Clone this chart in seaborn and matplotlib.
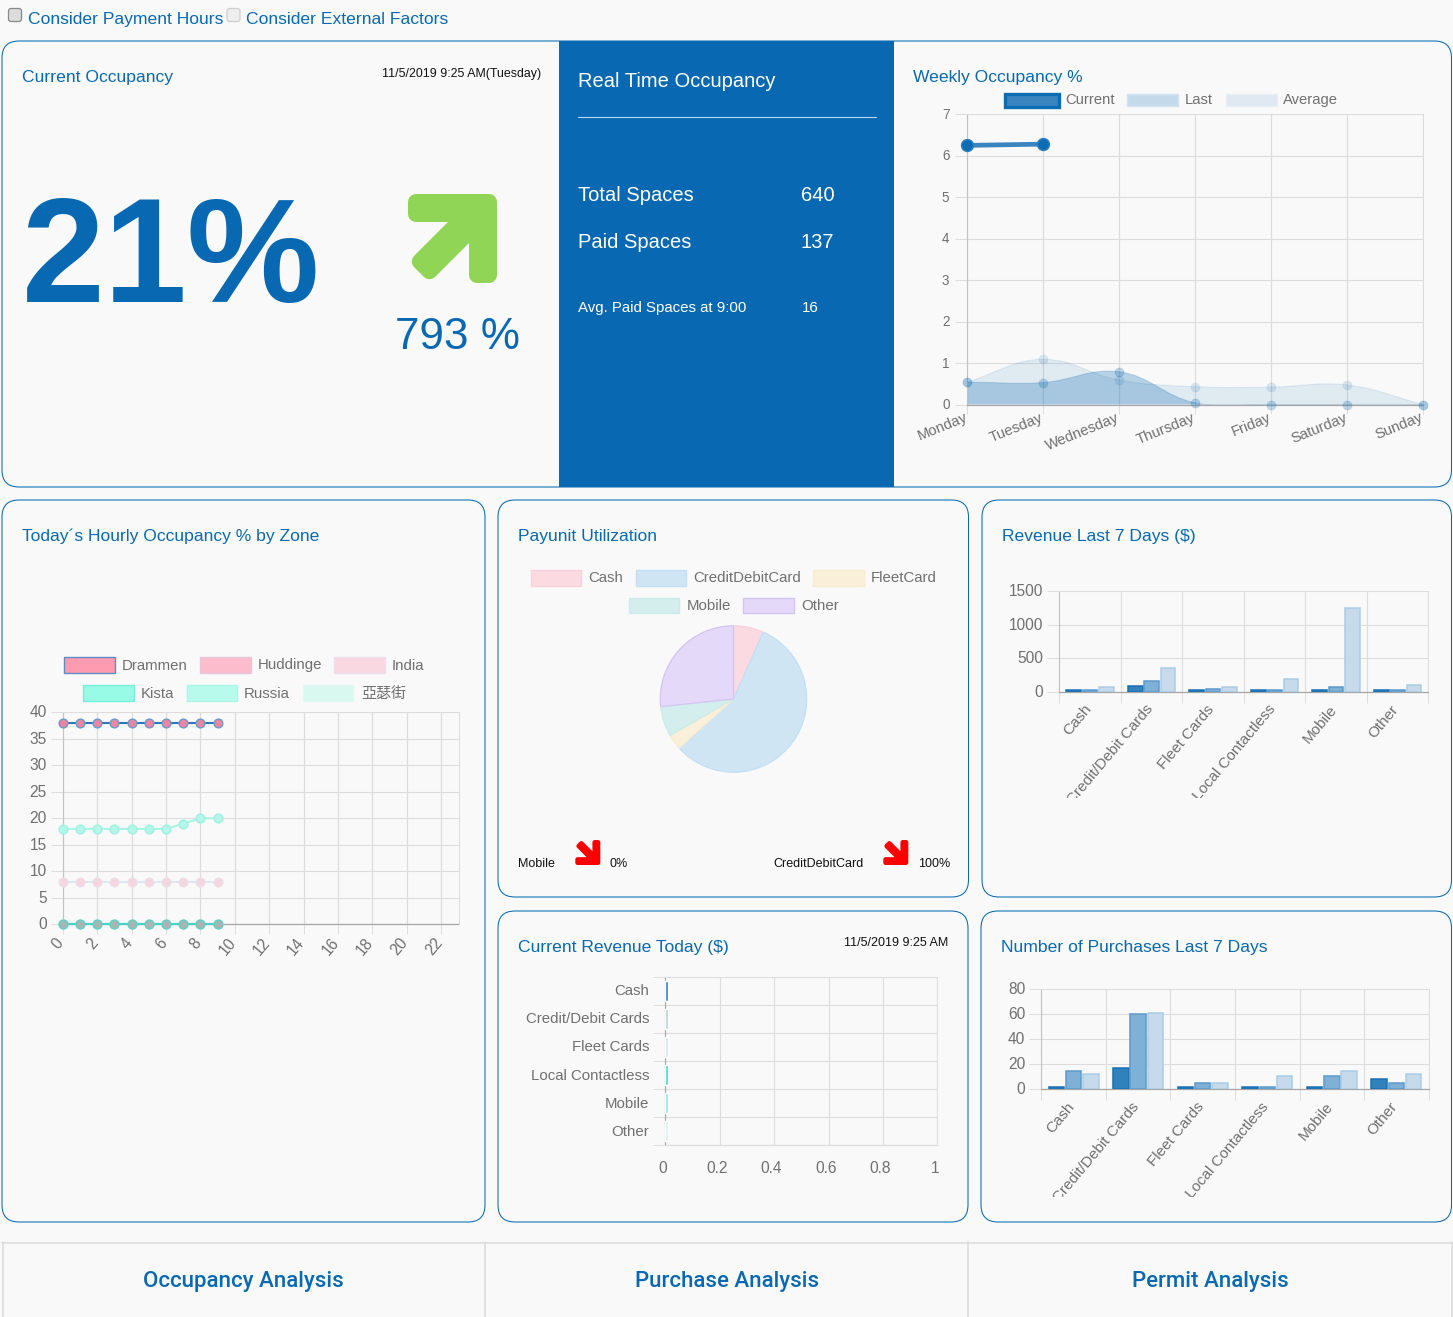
import numpy as np
import pandas as pd
import matplotlib
matplotlib.use("Agg")
import matplotlib.pyplot as plt
import seaborn as sns
from matplotlib.patches import FancyBboxPatch, Rectangle, Polygon, PathPatch
from matplotlib.path import Path
from matplotlib.transforms import Bbox, ScaledTranslation

# ---------- data ----------
days = ["Monday", "Tuesday", "Wednesday", "Thursday", "Friday", "Saturday", "Sunday"]
week_current = [6.25, 6.28]
week_last = [0.54, 0.53, 0.79, 0.04, 0.0, 0.0, 0.0]
week_average = [0.54, 1.09, 0.59, 0.43, 0.42, 0.47, 0.0]

hours = [0, 1, 2, 3, 4, 5, 6, 7, 8, 9]
zone_drammen = [38, 38, 38, 38, 38, 38, 38, 38, 38, 38]
zone_huddinge = [0, 0, 0, 0, 0, 0, 0, 0, 0, 0]
zone_india = [8, 8, 8, 8, 8, 8, 8, 8, 8, 8]
zone_kista = [0, 0, 0, 0, 0, 0, 0, 0, 0, 0]
zone_russia = [18, 18, 18, 18, 18, 18, 18, 19, 20, 20]
zone_asw = [0, 0, 0, 0, 0, 0, 0, 0, 0, 0]
hour_ticks = list(range(0, 23, 2))

pay_labels = ["Cash", "CreditDebitCard", "FleetCard", "Mobile", "Other"]
pay_values = [2, 17, 1, 2, 8]

pay_cats = ["Cash", "Credit/Debit Cards", "Fleet Cards", "Local Contactless", "Mobile", "Other"]
rev_current = [30, 80, 30, 30, 30, 30]
rev_last = [30, 165, 45, 30, 75, 30]
rev_average = [75, 360, 75, 190, 1245, 105]
pur_current = [2, 17, 2, 2, 2, 8]
pur_last = [15, 60, 5, 2, 11, 5]
pur_average = [12, 61, 5, 11, 15, 12]
today_values = [0.01, 0.01, 0.01, 0.01, 0.01, 0.01]

# ---------- style ----------
W, H = 1453, 1317
BG = "#f9f9f9"
BLUE = "#0869b2"
GRID = "#dddddd"
TICK = "#707070"
sns.set_theme(style="white")
plt.rcParams["font.family"] = ["Liberation Sans", "Noto Sans CJK TC", "DejaVu Sans"]
plt.rcParams["axes.unicode_minus"] = False

fig = plt.figure(figsize=(W / 100, H / 100), dpi=100, facecolor=BG)
PX = 0.72
LAB = 15.0
TITLE = 17.5


def fs(px):
    return px * PX


def shift(labels, dx, dy):
    for lab in labels:
        lab.set_transform(lab.get_transform() + ScaledTranslation(dx / 100, -dy / 100, fig.dpi_scale_trans))


page = fig.add_axes([0, 0, 1, 1], zorder=0)
page.set_xlim(0, W)
page.set_ylim(H, 0)
page.axis("off")


def txt(x, y, s, px, color=BLUE, ha="left", va="baseline", **kw):
    return page.text(x, y, s, fontsize=fs(px), color=color, ha=ha, va=va, **kw)


def card(x0, y0, x1, y1):
    page.add_patch(FancyBboxPatch((x0, y0), x1 - x0, y1 - y0,
                                  boxstyle="round,pad=0,rounding_size=17",
                                  fc=BG, ec=BLUE, lw=0.75, mutation_aspect=1))


def swatch(x0, x1, y0, y1, fc, ec, lw=1.0):
    page.add_patch(Rectangle((x0, y0), x1 - x0, y1 - y0, fc=fc, ec=ec, lw=lw))


def checkbox(x0, y0, fc, ec):
    page.add_patch(FancyBboxPatch((x0, y0), 13, 13, boxstyle="round,pad=0,rounding_size=2.5",
                                  fc=fc, ec=ec, lw=0.9))


def arrow(x0, y0, size, color, flip=False):
    k = size / 89.0
    pts = [(8, 8), (81, 8), (81, 81), (69, 81), (69, 29.7), (21.5, 77.2), (11.8, 67.5), (59.3, 20), (8, 20)]
    out = []
    for px_, py_ in pts:
        yy = size - py_ * k if flip else py_ * k
        out.append((x0 + px_ * k, y0 + yy))
    page.add_patch(Polygon(out, closed=True, fc=color, ec=color, lw=16 * k * PX, joinstyle="round"))


def chart_axes(x0, y0, x1, y1):
    ax = fig.add_axes([x0 / W, 1 - y1 / H, (x1 - x0) / W, (y1 - y0) / H], zorder=2)
    ax.patch.set_alpha(0)
    ax.set_axisbelow(True)
    for side in ("top", "right"):
        ax.spines[side].set_color(GRID)
        ax.spines[side].set_linewidth(0.72)
    ax.spines["left"].set_color("#c2c2c2")
    ax.spines["bottom"].set_color("#a6a6a6")
    ax.spines["left"].set_linewidth(0.8)
    ax.spines["bottom"].set_linewidth(0.9)
    return ax


def finish_y(ax, px, stub):
    ax.grid(True, axis="y", color=GRID, lw=0.8)
    ax.tick_params(axis="y", length=stub * PX, width=0.72, color=GRID, labelsize=fs(px),
                   labelcolor=TICK, pad=4 * PX, left=True)
    ax.set_xlabel("")
    ax.set_ylabel("")
    shift(ax.get_yticklabels(), 0, -1)


def smooth_area(ax, xs, ys, fc, ec, sx, sy, t=0.4):
    """Chart.js style bezier through the data points, filled to the zero line."""
    n = len(xs)
    p = np.column_stack([np.array(xs, float) * sx, np.array(ys, float) * sy])
    verts = [tuple(p[0])]
    codes = [Path.MOVETO]
    c1, c2 = [None] * n, [None] * n
    for i in range(n):
        a = p[max(i - 1, 0)]
        b = p[i]
        c = p[min(i + 1, n - 1)]
        d1, d2 = np.hypot(*(b - a)), np.hypot(*(c - b))
        tot = (d1 + d2) or 1.0
        c1[i] = b - t * d1 / tot * (c - a)
        c2[i] = b + t * d2 / tot * (c - a)
    for i in range(n - 1):
        verts += [tuple(c2[i]), tuple(c1[i + 1]), tuple(p[i + 1])]
        codes += [Path.CURVE4] * 3
    verts = [(vx / sx, vy / sy) for vx, vy in verts]
    line = Path(verts, codes)
    fill = Path(verts + [(xs[-1], 0), (xs[0], 0), (xs[0], ys[0])],
                codes + [Path.LINETO, Path.LINETO, Path.LINETO])
    ax.add_patch(PathPatch(fill, fc=fc, ec="none", zorder=1.5))
    ax.add_patch(PathPatch(line, fc="none", ec=ec, lw=0.8, zorder=1.6))


def grouped_bars(box, values, ymax, ystep, clip_y):
    ax = chart_axes(*box)
    frame = pd.DataFrame({
        "category": pay_cats * 3,
        "value": values[0] + values[1] + values[2],
        "series": ["Current"] * 6 + ["Last"] * 6 + ["Average"] * 6,
    })
    fills = ["#3082bd", "#7fb0d6", "#c6daeb"]
    edges = ["#1a70b5", "#5c9acb", "#aaccE6"]
    sns.barplot(data=frame, x="category", y="value", hue="series", palette=fills, width=0.8, gap=0.1,
                legend=False, ax=ax, saturation=1, errorbar=None, zorder=3)
    for cont, ec in zip(ax.containers, edges):
        for bar in cont:
            bar.set_edgecolor(ec)
            bar.set_linewidth(1.1)
    ax.set_xlim(-0.5, 5.5)
    ax.set_ylim(0, ymax)
    ax.set_yticks(np.arange(0, ymax + 1, ystep))
    finish_y(ax, LAB + 0.5, 12)
    ax.yaxis.get_major_ticks()[0].tick1line.set_color("#a6a6a6")
    ax.set_xticks(np.arange(-0.5, 6), minor=True)
    ax.grid(True, axis="x", which="minor", color=GRID, lw=0.8)
    ax.tick_params(axis="x", which="minor", length=11.5 * PX, width=0.72, color=GRID, bottom=True)
    ax.tick_params(axis="x", which="major", length=0, pad=15 * PX)
    ax.set_xticks(range(6))
    ax.set_xticklabels(pay_cats, rotation=50, ha="right", va="center", rotation_mode="anchor",
                       fontsize=fs(LAB + 0.3), color=TICK)
    shift(ax.get_xticklabels(), -1.5, 0)
    clip = Bbox([[0, (H - clip_y)], [W, H]])
    for lab in ax.get_xticklabels():
        lab.set_clip_box(clip)
        lab.set_clip_on(True)
    return ax


# ---------- page furniture ----------
checkbox(8.5, 8.5, "#dcdcdc", "#8a8a8a")
checkbox(227, 8.5, "#eeeeee", "#cfcfcf")
txt(28, 24, "Consider Payment Hours", TITLE)
txt(246, 24, "Consider External Factors", TITLE)

card(2, 41, 1451.5, 487)
page.add_patch(Rectangle((559, 41), 335, 446, fc="#0869b2", ec="none"))
card(2, 500, 485, 1222)
card(498, 500, 968.5, 897)
card(982, 500, 1451.5, 897)
card(498, 911, 968, 1222)
card(981, 911, 1451.5, 1222)

txt(22, 82, "Current Occupancy", TITLE)
txt(541, 77, "11/5/2019 9:25 AM(Tuesday)", 12.4, color="#111111", ha="right")
txt(22, 302, "21%", 149, fontweight="bold")
arrow(408, 194, 89, "#90d555")
txt(395, 349, "793 %", 44)

txt(578, 87, "Real Time Occupancy", 20.1, color="white")
page.plot([578, 876], [116.5, 116.5], color="#bcd9ee", lw=0.8)
txt(578, 201, "Total Spaces", 20.1, color="white")
txt(801, 201, "640", 20.1, color="white")
txt(578, 248, "Paid Spaces", 20.1, color="white")
txt(801, 248, "137", 20.1, color="white")
txt(578, 312, "Avg. Paid Spaces at 9:00", 15, color="white")
txt(802, 312, "16", 15, color="white")

txt(913, 82, "Weekly Occupancy %", TITLE)
txt(22, 541, "Today\u00b4s Hourly Occupancy % by Zone", TITLE)
txt(518, 541, "Payunit Utilization", TITLE)
txt(1002, 541, "Revenue Last 7 Days ($)", TITLE)
txt(518, 952, "Current Revenue Today ($)", TITLE)
txt(948, 946, "11/5/2019 9:25 AM", 12.5, color="#111111", ha="right")
txt(1001, 952, "Number of Purchases Last 7 Days", TITLE)

txt(518, 867, "Mobile", 12.5, color="#111111")
arrow(575.3, 840, 25, "#fb0000", flip=True)
txt(609.5, 867, "0%", 12.5, color="#111111")
txt(773.5, 867, "CreditDebitCard", 12.5, color="#111111")
arrow(883.3, 840, 25, "#fb0000", flip=True)
txt(918, 867, "100%", 12.5, color="#111111")

# bottom navigation
for x in (2.5, 485, 968, 1452):
    page.plot([x, x], [1242, H], color="#dddddd", lw=1.2)
page.plot([2, 1452], [1242.5, 1242.5], color="#dddddd", lw=1.2)
for cx, label in ((243.5, "Occupancy Analysis"), (727, "Purchase Analysis"), (1210, "Permit Analysis")):
    txt(cx, 1287, label, 22.3, ha="center", family="Roboto", fontweight="medium")

# ---------- weekly occupancy ----------
ax = chart_axes(967, 114.3, 1423, 404.5)
x_week = list(range(7))
sx, sy = 456 / 6, 290.2 / 7
RGB = (10 / 255, 106 / 255, 178 / 255)
smooth_area(ax, x_week, week_average, RGB + (0.10,), RGB + (0.10,), sx, sy)
smooth_area(ax, x_week, week_last, RGB + (0.27,), RGB + (0.20,), sx, sy)
sns.lineplot(x=x_week, y=week_average, ax=ax, color=(1, 1, 1, 0), marker="o", markersize=6.5, errorbar=None,
             markerfacecolor=RGB + (0.13,), markeredgecolor=RGB + (0.06,),
             clip_on=False, zorder=4)
sns.lineplot(x=x_week, y=week_last, ax=ax, color=(1, 1, 1, 0), marker="o", markersize=6.5, errorbar=None,
             markerfacecolor=RGB + (0.25,), markeredgecolor=RGB + (0.12,),
             clip_on=False, zorder=4)
sns.lineplot(x=x_week[:2], y=week_current, ax=ax, color="#3a85c0", lw=3.4, marker="o", markersize=8.6, errorbar=None,
             markerfacecolor="#0d6db4", markeredgecolor="#2e7fbd", markeredgewidth=1, clip_on=False, zorder=5)
ax.set_xlim(0, 6)
ax.set_ylim(0, 7)
ax.set_yticks(range(8))
finish_y(ax, 13.5, 12)
shift(ax.get_yticklabels(), -1.5, 0)
ax.yaxis.get_major_ticks()[0].tick1line.set_color("#a6a6a6")
ax.grid(True, axis="x", color=GRID, lw=0.9)
ax.set_xticks(x_week)
ax.tick_params(axis="x", length=9 * PX, width=0.72, color=GRID, pad=1 * PX, bottom=True)
ax.set_xticklabels(days, rotation=22, ha="right", va="top", rotation_mode="anchor", fontsize=fs(14.8), color=TICK)
shift(ax.get_xticklabels(), -3, -4)
swatch(1004.5, 1058.5, 93.5, 106.5, "#3a85c0", "#0d6db4", lw=2.4)
txt(1065, 104, "Current", 14.8, color=TICK)
swatch(1127, 1178, 94, 106, "#c4d9ea", "#d3e4f0")
txt(1185, 104, "Last", 14.8, color=TICK)
swatch(1226, 1277, 94, 106, "#e0e9f1", "#e8f0f5")
txt(1283, 104, "Average", 14.8, color=TICK)

# ---------- hourly occupancy ----------
ax = chart_axes(62.7, 712.3, 458.5, 924.3)
zone_styles = [
    (zone_india, "#dde7f0", "#f5d5de", "#ecdfe8"),
    (zone_russia, "#a8f5e4", "#b4f6e7", "#9df2e1"),
    (zone_huddinge, "#9ad4d0", "#e9b6c2", "#cfdad8"),
    (zone_asw, "#b6ece2", "#cdeee6", "#cdeee6"),
    (zone_kista, "#45d3c8", "#a9b5b2", "#62d0c7"),
    (zone_drammen, "#2a79b8", "#ea86a0", "#6a9bcd"),
]
for vals, line, face, edge in zone_styles:
    sns.lineplot(x=hours, y=vals, ax=ax, color=line, lw=1.5, marker="o", markersize=6.3, errorbar=None,
                 markerfacecolor=face, markeredgecolor=edge, markeredgewidth=1.0, clip_on=False, zorder=4)
ax.set_xlim(0, 23)
ax.set_ylim(0, 40)
ax.set_yticks(range(0, 41, 5))
finish_y(ax, LAB + 0.5, 12)
ax.yaxis.get_major_ticks()[0].tick1line.set_color("#a6a6a6")
ax.grid(True, axis="x", color=GRID, lw=0.9)
ax.set_xticks(hour_ticks)
ax.tick_params(axis="x", length=10 * PX, width=0.72, color=GRID, pad=2 * PX, bottom=True)
ax.set_xticklabels(hour_ticks, rotation=50, ha="right", va="top", rotation_mode="anchor", fontsize=fs(LAB + 0.5), color=TICK)
shift(ax.get_xticklabels(), -7.5, -1)
for x0, x1, y0, y1, tx, ty, fc, ec, lab in [
    (63.5, 114.5, 657, 673, 121.5, 669.5, "#ff9bb0", "#5b8cc4", "Drammen"),
    (199.7, 250.7, 657, 673, 257.5, 669.5, "#fdbccb", "#e3c8dc", "Huddinge"),
    (334.3, 385, 657, 673, 392, 669.5, "#f9d8e1", "#ecdfe9", "India"),
    (82.5, 134, 684.5, 700.5, 140.7, 697.5, "#97fbe5", "#76f0d9", "Kista"),
    (186.5, 237.3, 684.5, 700.5, 244, 697.5, "#b8fbec", "#aaf7e6", "Russia"),
    (302.7, 353.3, 684.5, 700.5, 361, 697.5, "#d8f8f0", "#e0f9f3", "亞瑟街"),
]:
    swatch(x0, x1, y0, y1, fc, ec)
    txt(tx, ty, lab, LAB, color=TICK)

# ---------- payunit pie ----------
ax = fig.add_axes([660.3 / W, 1 - 772.2 / H, 146.4 / W, 146.4 / H], zorder=2)
ax.patch.set_alpha(0)
pie_fills = ["#fbdae1", "#d0e5f4", "#faf0da", "#d3eeec", "#e4d9f9"]
pie_edges = ["#f9d2dc", "#c2dff5", "#f8ecd0", "#cdebe8", "#d2c5f3"]
wedges, _ = ax.pie(pay_values, colors=pie_fills, startangle=90, counterclock=False, radius=1)
for w_, e_ in zip(wedges, pie_edges):
    w_.set_edgecolor(e_)
    w_.set_linewidth(0.9)
ax.set_xlim(-1, 1)
ax.set_ylim(-1, 1)
for x0, x1, y0, y1, tx, ty, fc, ec, lab in [
    (530.5, 581, 570, 585.5, 588, 582.5, pie_fills[0], pie_edges[0], pay_labels[0]),
    (635.5, 685.7, 570, 585.5, 693, 582.5, pie_fills[1], pie_edges[1], pay_labels[1]),
    (813, 863.7, 570, 585.5, 871, 582.5, pie_fills[2], pie_edges[2], pay_labels[2]),
    (628.7, 679.3, 597.8, 613.3, 686.7, 610.5, pie_fills[3], pie_edges[3], pay_labels[3]),
    (743, 793.7, 597.8, 613.3, 801, 610.5, pie_fills[4], pie_edges[4], pay_labels[4]),
]:
    swatch(x0, x1, y0, y1, fc, ec)
    txt(tx, ty, lab, LAB, color=TICK)

# ---------- revenue / purchases ----------
grouped_bars((1059.3, 591.3, 1428.3, 691.7), [rev_current, rev_last, rev_average], 1500, 500, 798)
grouped_bars((1041.3, 989.3, 1428.7, 1089.3), [pur_current, pur_last, pur_average], 80, 20, 1197)

# ---------- current revenue today ----------
ax = chart_axes(665.3, 976.7, 937.3, 1145.3)
today_palette = ["#2f80bf", "#b5d0e6", "#d5e2ee", "#40dccb", "#93e6da", "#d5f2ee"]
sns.barplot(x=today_values, y=pay_cats, hue=pay_cats, palette=today_palette, orient="h", width=0.72,
            dodge=False, legend=False, ax=ax, saturation=1, errorbar=None, zorder=3)
ax.set_xlim(0, 1)
ax.set_ylim(5.5, -0.5)
ax.spines["left"].set_color("#a6a6a6")
ax.spines["bottom"].set_color(GRID)
ax.set_xticks([0, 0.2, 0.4, 0.6, 0.8, 1.0])
ax.set_xticklabels(["0", "0.2", "0.4", "0.6", "0.8", "1"], fontsize=fs(LAB + 0.5), color=TICK)
ax.tick_params(axis="x", length=0, pad=16 * PX)
shift(ax.get_xticklabels(), -2.5, 0)
ax.grid(True, axis="x", color=GRID, lw=0.8)
ax.set_yticks(np.arange(-0.5, 6), minor=True)
ax.grid(True, axis="y", which="minor", color=GRID, lw=0.8)
ax.tick_params(axis="y", which="minor", length=12 * PX, width=0.72, color=GRID, left=True)
ax.tick_params(axis="y", which="major", length=0, labelsize=fs(LAB), labelcolor=TICK, pad=16 * PX)
shift(ax.get_yticklabels(), 0, -1)
ax.set_xlabel("")
ax.set_ylabel("")

fig.savefig("out.png", dpi=100, facecolor=BG)
